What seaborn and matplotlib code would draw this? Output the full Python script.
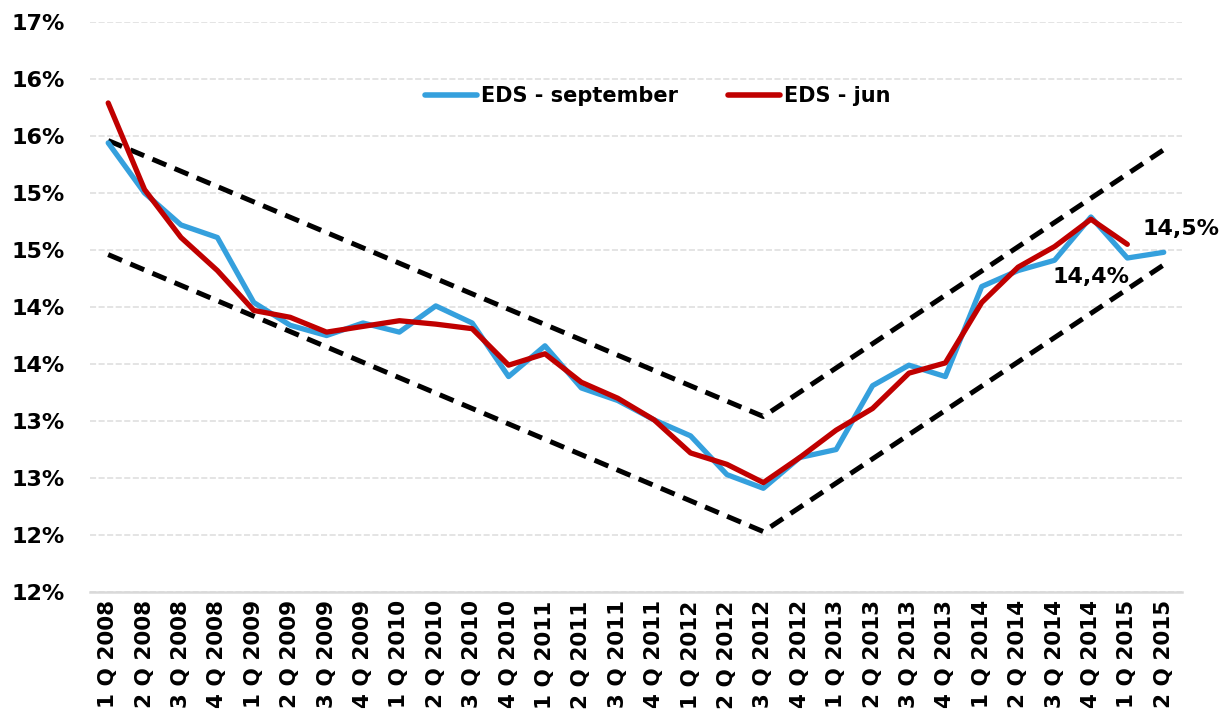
import matplotlib
matplotlib.use("Agg")
import matplotlib.pyplot as plt
import numpy as np
import pandas as pd
import seaborn as sns

# quarters on the x axis
quarters = ["1 Q 2008", "2 Q 2008", "3 Q 2008", "4 Q 2008",
            "1 Q 2009", "2 Q 2009", "3 Q 2009", "4 Q 2009",
            "1 Q 2010", "2 Q 2010", "3 Q 2010", "4 Q 2010",
            "1 Q 2011", "2 Q 2011", "3 Q 2011", "4 Q 2011",
            "1 Q 2012", "2 Q 2012", "3 Q 2012", "4 Q 2012",
            "1 Q 2013", "2 Q 2013", "3 Q 2013", "4 Q 2013",
            "1 Q 2014", "2 Q 2014", "3 Q 2014", "4 Q 2014",
            "1 Q 2015", "2 Q 2015"]

eds_september = [15.44, 15.00, 14.72, 14.61, 14.04, 13.84, 13.75, 13.86,
                 13.78, 14.01, 13.86, 13.39, 13.66, 13.29, 13.18, 13.01,
                 12.87, 12.53, 12.41, 12.68, 12.75, 13.31, 13.49, 13.39,
                 14.18, 14.32, 14.41, 14.79, 14.43, 14.48]

eds_jun = [15.79, 15.03, 14.61, 14.32, 13.97, 13.91, 13.78, 13.83,
           13.88, 13.85, 13.81, 13.49, 13.59, 13.34, 13.20, 13.01,
           12.72, 12.62, 12.46, 12.68, 12.92, 13.11, 13.42, 13.51,
           14.04, 14.35, 14.53, 14.77, 14.55, np.nan]

# trend channel (dashed lines), points at quarter index
trend_idx = [0, 18, 29]
trend_upper = [15.46, 13.04, 15.38]
trend_lower = [14.46, 12.03, 14.37]

# y axis ticks and their labels as shown
y_ticks = [11.5, 12.0, 12.5, 13.0, 13.5, 14.0, 14.5, 15.0, 15.5, 16.0, 16.5]
y_labels = ["12%", "12%", "13%", "13%", "14%", "14%", "15%", "15%", "16%", "16%", "17%"]

label_sep = "14,4%"
label_jun = "14,5%"

df = pd.DataFrame({"pos": np.arange(len(quarters)),
                   "EDS - september": eds_september,
                   "EDS - jun": eds_jun})
long_df = df.melt(id_vars="pos", var_name="serie", value_name="val")

sns.set_style("white")
plt.rcParams["font.family"] = ["DejaVu Sans"]
plt.rcParams["text.color"] = "black"
plt.rcParams["xtick.color"] = "black"
plt.rcParams["ytick.color"] = "black"

fig = plt.figure(figsize=(12.21, 7.22), dpi=100)
ax = fig.add_axes([0.0737, 0.180, 0.8943, 0.7895])

# dashed channel
for vals in (trend_upper, trend_lower):
    ax.plot(trend_idx, vals, color="black", lw=3.6, linestyle=(0, (3, 1.8)),
            dash_capstyle="butt", zorder=2)

sns.lineplot(data=long_df, x="pos", y="val", hue="serie",
             palette={"EDS - september": "#35A0DD", "EDS - jun": "#C00000"},
             linewidth=3.8, ax=ax, zorder=3)

ax.set_xlim(-0.5, len(quarters) - 0.5)
ax.set_ylim(y_ticks[0], y_ticks[-1])
ax.set_yticks(y_ticks)
ax.set_yticklabels(y_labels, fontsize=16, fontweight="bold", color="black")
ax.set_xticks(np.arange(len(quarters)))
ax.set_xticklabels(quarters, rotation=90, fontsize=15.5, fontweight="bold",
                   va="top", ha="center", color="black")
ax.tick_params(axis="y", length=0, pad=18)
ax.tick_params(axis="x", length=0, pad=6)
ax.set_xlabel("")
ax.set_ylabel("")

ax.yaxis.grid(True, color="#DDDDDD", linestyle=(0, (4, 1.6)), lw=1.1)
ax.xaxis.grid(False)
for s in ("left", "right", "top"):
    ax.spines[s].set_visible(False)
ax.spines["bottom"].set_color("#D9D9D9")
ax.spines["bottom"].set_linewidth(1.8)

# legend
handles, labels = ax.get_legend_handles_labels()
leg = ax.legend(handles, labels, loc="center", bbox_to_anchor=(0.52, 0.87),
                ncol=2, frameon=False, handlelength=2.5, handletextpad=0.2,
                columnspacing=2.4, prop={"size": 15, "weight": "bold"})
for line in leg.get_lines():
    line.set_linewidth(4)
    line.set_solid_capstyle("round")
for t in leg.get_texts():
    t.set_color("black")

# data labels
ax.annotate(label_jun, xy=(28, eds_jun[28]), xytext=(11, 11),
            textcoords="offset points", ha="left", va="center",
            fontsize=16, fontweight="bold", color="black")
ax.annotate(label_sep, xy=(28, eds_september[28]), xytext=(-26, -14),
            textcoords="offset points", ha="center", va="center",
            fontsize=16, fontweight="bold", color="black")

fig.savefig("out.png", dpi=100)
